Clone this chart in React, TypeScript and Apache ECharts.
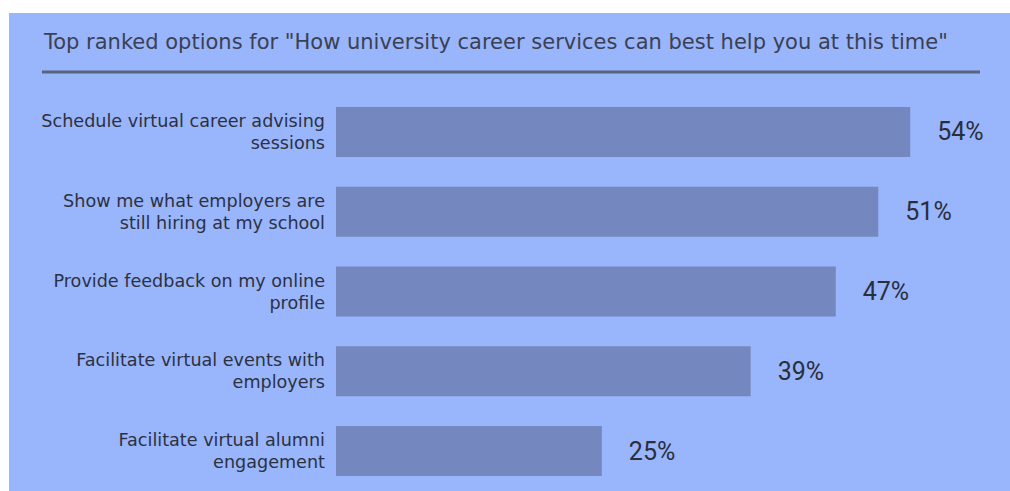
import React, { useEffect, useRef } from "react";
import * as echarts from "echarts";

const titleText = 'Top ranked options for "How university career services can best help you at this time"';
const categories = [
  "Schedule virtual career advising\nsessions",
  "Show me what employers are\nstill hiring at my school",
  "Provide feedback on my online\nprofile",
  "Facilitate virtual events with\nemployers",
  "Facilitate virtual alumni\nengagement",
];
const values = [54, 51, 47, 39, 25];

export default function App() {
  const ref = useRef<HTMLDivElement>(null);
  useEffect(() => {
    if (!ref.current) return;
    const chart = echarts.init(ref.current, null, { renderer: "svg" });
    chart.setOption({
      animation: false,
      backgroundColor: "#ffffff",
      graphic: [
        { type: "rect", z: -10, shape: { x: 9, y: 13, width: 1001, height: 478 }, style: { fill: "#99b5fc" } },
        {
          type: "text",
          x: 44,
          y: 52,
          style: {
            text: titleText,
            fill: "#3b4052",
            font: '21px "DejaVu Sans", sans-serif',
            textVerticalAlign: "bottom",
          },
        },
        { type: "line", shape: { x1: 42, y1: 72, x2: 980, y2: 72 }, style: { stroke: "#59657f", lineWidth: 3 } },
      ],
      grid: { left: 336, right: 36, top: 92, bottom: 0, containLabel: false },
      xAxis: { type: "value", min: 0, max: 60, show: false },
      yAxis: {
        type: "category",
        inverse: true,
        data: categories,
        axisLine: { show: false },
        axisTick: { show: false },
        axisLabel: {
          margin: 11,
          align: "right",
          color: "#2c3142",
          fontFamily: '"DejaVu Sans", sans-serif',
          fontSize: 17.6,
          lineHeight: 22,
        },
      },
      series: [
        {
          type: "bar",
          data: values,
          barWidth: 50,
          itemStyle: { color: "#7488bf" },
          label: {
            show: true,
            position: "right",
            distance: 27,
            formatter: "{c}%",
            color: "#2a2e3d",
            fontFamily: "Roboto, sans-serif",
            fontSize: 25,
          },
        },
      ],
    });
    return () => chart.dispose();
  }, []);
  return <div ref={ref} style={{ position: "fixed", left: 0, top: 0, width: 1010, height: 491 }} />;
}
